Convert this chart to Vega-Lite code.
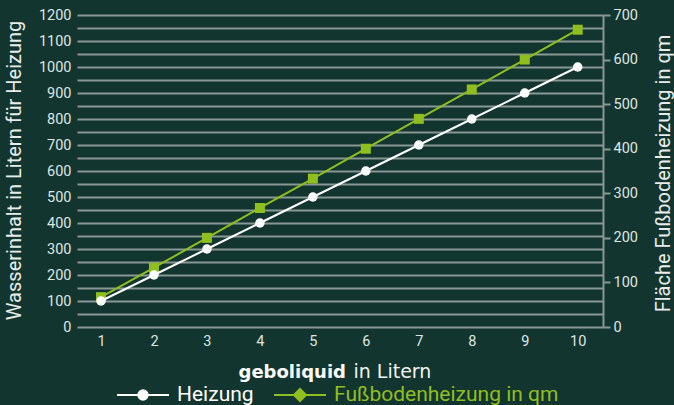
{
  "$schema": "https://vega.github.io/schema/vega-lite/v6.json",
  "width": 526,
  "height": 312,
  "autosize": {"type": "none"},
  "padding": {"left": 77, "top": 15, "right": 71, "bottom": 78},
  "background": "#13352f",
  "config": {
    "view": {"stroke": null},
    "font": "Roboto",
    "axis": {"labelFont": "Roboto", "titleFont": "Roboto"}
  },
  "data": {
    "values": [
      {"liter": 1, "heizung": 100, "flaeche": 67},
      {"liter": 2, "heizung": 200, "flaeche": 133},
      {"liter": 3, "heizung": 300, "flaeche": 200},
      {"liter": 4, "heizung": 400, "flaeche": 267},
      {"liter": 5, "heizung": 500, "flaeche": 333},
      {"liter": 6, "heizung": 600, "flaeche": 400},
      {"liter": 7, "heizung": 700, "flaeche": 467},
      {"liter": 8, "heizung": 800, "flaeche": 533},
      {"liter": 9, "heizung": 900, "flaeche": 600},
      {"liter": 10, "heizung": 1000, "flaeche": 667}
    ]
  },
  "layer": [
    {
      "mark": {"type": "line", "strokeWidth": 2, "point": {"shape": "square", "size": 100, "filled": true, "opacity": 1}},
      "encoding": {
        "x": {
          "field": "liter", "type": "quantitative",
          "scale": {"domain": [0.547, 10.477], "nice": false, "zero": false},
          "axis": {
            "orient": "bottom", "labels": false, "ticks": false, "domain": false, "grid": false,
            "title": "in Litern", "titleFont": "DejaVu Sans", "titleFontSize": 19, "titleFontWeight": "normal",
            "titleColor": "#f2f4f3", "titleX": 276, "titleY": 50, "titleAlign": "left", "titleBaseline": "alphabetic"
          }
        },
        "y": {
          "field": "flaeche", "type": "quantitative",
          "scale": {"domain": [0, 700], "nice": false},
          "axis": {
            "orient": "right", "values": [0, 100, 200, 300, 400, 500, 600, 700], "format": "d",
            "grid": false, "domain": true, "domainColor": "#8a9893", "domainWidth": 2,
            "ticks": true, "tickColor": "#8a9893", "tickWidth": 2, "tickSize": 7,
            "labelPadding": 3, "labelFontSize": 14.5, "labelColor": "#dfe5e2",
            "title": "Fläche Fußbodenheizung in qm", "titleAngle": -90, "titleX": 66, "titleY": 158,
            "titleAlign": "center", "titleBaseline": "alphabetic", "titleFontSize": 20,
            "titleFontWeight": "normal", "titleColor": "#e8ecea"
          }
        },
        "color": {
          "datum": "Fußbodenheizung in qm", "type": "nominal",
          "scale": {"domain": ["Heizung", "Fußbodenheizung in qm"], "range": ["#ffffff", "#8fbf1f"]},
          "legend": {
            "orient": "none", "legendX": 39, "legendY": 353, "direction": "horizontal", "title": null,
            "symbolSize": 2704, "symbolStrokeWidth": 2, "labelFont": "Roboto", "labelFontSize": 21,
            "labelOffset": 7, "columnPadding": 16, "padding": 0, "labelLimit": 400,
            "encode": {
              "symbols": {"update": {
                "shape": {"signal": "datum.value == 'Heizung' ? 'M-1,0H1M0.18,0A0.18,0.18,0,1,1,-0.18,0A0.18,0.18,0,1,1,0.18,0Z' : 'M-1,0H1M0,-0.23L0.23,0L0,0.23L-0.23,0Z'"},
                "fill": {"signal": "datum.value == 'Heizung' ? '#ffffff' : '#8fbf1f'"},
                "stroke": {"signal": "datum.value == 'Heizung' ? '#ffffff' : '#8fbf1f'"},
                "strokeWidth": {"value": 2},
                "opacity": {"value": 1}
              }},
              "labels": {"update": {
                "fill": {"signal": "datum.value == 'Heizung' ? '#ffffff' : '#8fbf1f'"}
              }}
            }
          }
        }
      }
    },
    {
      "mark": {"type": "line", "strokeWidth": 2, "point": {"shape": "circle", "size": 90, "filled": true, "opacity": 1}},
      "encoding": {
        "x": {
          "field": "liter", "type": "quantitative",
          "axis": {
            "orient": "bottom", "values": [1, 2, 3, 4, 5, 6, 7, 8, 9, 10], "format": "d",
            "ticks": false, "domain": false, "grid": false,
            "labelPadding": 7, "labelFontSize": 14.5, "labelColor": "#dfe5e2",
            "title": "geboliquid", "titleFont": "DejaVu Sans", "titleFontSize": 18, "titleFontWeight": "bold",
            "titleColor": "#ffffff", "titleX": 161, "titleY": 50, "titleAlign": "left", "titleBaseline": "alphabetic"
          }
        },
        "y": {
          "field": "heizung", "type": "quantitative",
          "scale": {"domain": [0, 1200], "nice": false},
          "axis": {
            "orient": "left", "format": "d",
            "values": [0, 50, 100, 150, 200, 250, 300, 350, 400, 450, 500, 550, 600, 650, 700, 750, 800, 850, 900, 950, 1000, 1050, 1100, 1150, 1200],
            "labelExpr": "datum.value % 100 == 0 ? datum.label : ''",
            "labelOverlap": false,
            "ticks": false, "domain": false, "grid": true,
            "gridColor": "#8a9893", "gridWidth": 2, "gridOpacity": 1,
            "labelPadding": 6, "labelFontSize": 14.5, "labelColor": "#dfe5e2",
            "title": "Wasserinhalt in Litern für Heizung", "titleAngle": -90, "titleX": -57, "titleY": 155,
            "titleAlign": "center", "titleBaseline": "alphabetic", "titleFontSize": 20,
            "titleFontWeight": "normal", "titleColor": "#e8ecea"
          }
        },
        "color": {"datum": "Heizung", "type": "nominal"}
      }
    }
  ],
  "resolve": {"scale": {"y": "independent"}, "axis": {"x": "independent", "y": "independent"}}
}
